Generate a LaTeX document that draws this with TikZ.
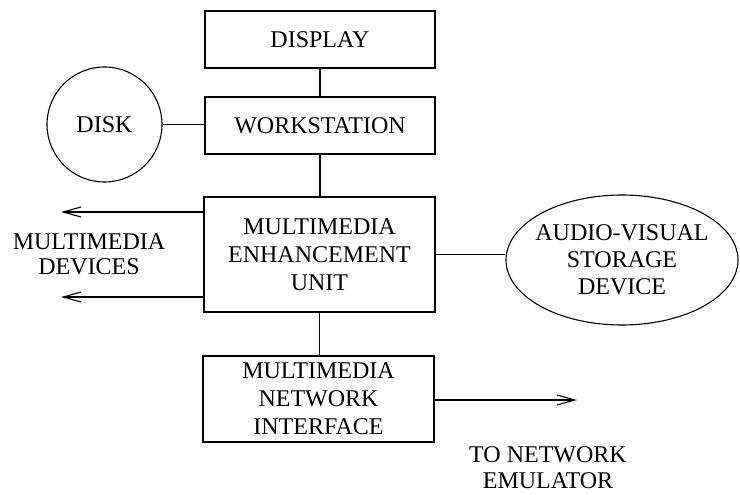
\documentclass[tikz,border=0pt]{standalone}
\usepackage{fontspec}
\setmainfont{Liberation Serif}
\usetikzlibrary{arrows.meta,shapes.geometric}
\begin{document}
\begin{tikzpicture}[x=1pt,y=-1pt,
  line width=1.1pt,
  unitbox/.style={draw, rectangle, inner sep=0pt, align=center,
    font=\fontsize{24}{28}\selectfont},
  roundbox/.style={draw, inner sep=0pt, align=center,
    font=\fontsize{24}{27}\selectfont},
  lbl/.style={align=center, inner sep=0pt, font=\fontsize{24}{26}\selectfont},
  outarrow/.style={-{Straight Barb[length=18pt,width=10pt,line width=1.1pt]}}
]
\useasboundingbox (0,0) rectangle (740,495);

% blocks
\node[unitbox, minimum width=230pt, minimum height=57pt] (display) at (320,39.5) {DISPLAY};
\node[unitbox, minimum width=230pt, minimum height=57pt] (workstation) at (320,125.5) {WORKSTATION};
\node[roundbox, circle, minimum size=115pt] (disk) at (104.5,124.5) {DISK};
\node[unitbox, minimum width=231pt, minimum height=115pt] (meu) at (319.5,254.5)
  {MULTIMEDIA\\ENHANCEMENT\\UNIT};
% the ellipse keeps its fixed size: negative inner sep stops the text from widening it
\node[roundbox, ellipse, inner xsep=-20pt, inner ysep=-10pt,
  minimum width=232pt, minimum height=130pt] (avs) at (622,260)
  {AUDIO-VISUAL\\STORAGE\\DEVICE};
\node[unitbox, minimum width=231pt, minimum height=86pt] (mni) at (318.5,399)
  {MULTIMEDIA\\NETWORK\\INTERFACE};

% free labels
\node[lbl, font=\fontsize{24}{25}\selectfont] (mdev) at (89,254.5) {MULTIMEDIA\\DEVICES};
\node[lbl] (tonet) at (548,468) {TO NETWORK\\EMULATOR};

% arrow ends
\coordinate (mdtop) at (61,212);
\coordinate (mdbot) at (61,297);
\coordinate (netend) at (577,400);

% connectors
\draw (display.south) -- (workstation.north);
\draw (disk.east) -- (disk.east -| workstation.west);
\draw (workstation.south) -- (workstation.south |- meu.north);
\draw (meu.south) -- (meu.south |- mni.north);
\draw (meu.east) -- (meu.east -| avs.west);
\draw[outarrow] (meu.west |- mdtop) -- (mdtop);
\draw[outarrow] (meu.west |- mdbot) -- (mdbot);
\draw[outarrow] (mni.east |- netend) -- (netend);
\end{tikzpicture}
\end{document}
